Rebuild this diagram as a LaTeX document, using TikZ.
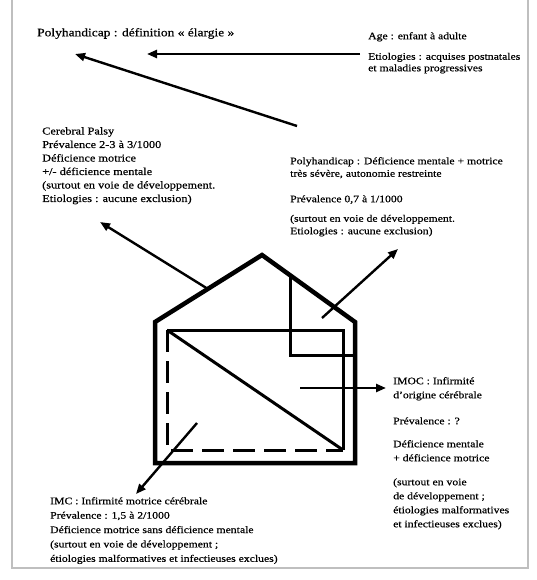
\documentclass[tikz,border=0pt]{standalone}
\usepackage{fontspec}
\setmainfont[FakeStretch=1.17,FakeBold=0.5]{Liberation Serif}
\usetikzlibrary{arrows.meta}
\tikzset{
  wall/.style={line width=4.5pt, line join=miter},
  inner/.style={line width=3pt},
  dashwall/.style={line width=3pt, dash pattern=on 22pt off 9pt},
  pointer/.style={line width=2.4pt, -{Triangle[length=10pt,width=8pt]}},
  txt/.style={anchor=north west, inner sep=0pt, align=left, font=\fontsize{10.5}{13.5}\selectfont},
}
\begin{document}
\begin{tikzpicture}[x=1pt,y=-1pt]
\useasboundingbox (0,0) rectangle (536,580);
\coordinate (f1) at (12,0);
\coordinate (f2) at (12,568);
\coordinate (f3) at (528,568);
\coordinate (f4) at (528,0);
\draw[black!25, line width=1.2pt] (f1) -- (f2) -- (f3) -- (f4);

% house
\coordinate (bl) at (155,463);
\coordinate (br) at (355,463);
\coordinate (el) at (155,322);
\coordinate (er) at (355,322);
\coordinate (ap) at (262,255);
\draw[wall] (el) -- (ap) -- (er) -- (br) -- (bl) -- cycle;

% inner rectangle
\coordinate (itl) at (167,330);
\coordinate (itr) at (343,330);
\coordinate (ibr) at (343,450);
\coordinate (ibl) at (167,450);
\draw[inner] (itl) -- (itr) -- (ibr);
\draw[dashwall] (itl) -- (ibl) -- (ibr);
\draw[inner] (itl) -- (ibr);

% inner L
\coordinate (lt) at (290,275);
\coordinate (lc) at (290,355);
\coordinate (lr) at (355,355);
\draw[inner] (lt) -- (lc) -- (lr);

% texts
\node[txt, font=\fontsize{11.5}{14}\selectfont] (title) at (37,28) {Polyhandicap : définition « élargie »};
\node[txt, font=\fontsize{10}{11.5}\selectfont] (age) at (368,32) {Age : enfant à adulte\\[9pt]Etiologies : acquises postnatales\\et maladies progressives};
\node[txt] (cp) at (42,127) {Cerebral Palsy\\Prévalence 2-3 à 3/1000\\Déficience motrice\\+/- déficience mentale\\(surtout en voie de développement.\\Etiologies : aucune exclusion)};
\node[txt, font=\fontsize{10}{12.5}\selectfont] (poly) at (290,157) {Polyhandicap : Déficience mentale + motrice\\très sévère, autonomie restreinte\\[13pt]Prévalence 0,7 à 1/1000\\[7pt](surtout en voie de développement.\\Etiologies : aucune exclusion)};
\node[txt, font=\fontsize{10}{14}\selectfont] (imoc) at (393,377) {IMOC : Infirmité\\d'origine cérébrale\\[12pt]Prévalence : ?\\[9pt]Déficience mentale\\+ déficience motrice\\[10pt](surtout en voie\\de développement ;\\étiologies malformatives\\et infectieuses exclues)};
\node[txt, font=\fontsize{10}{14.4}\selectfont] (imc) at (50,497) {IMC : Infirmité motrice cérébrale\\Prévalence : 1,5 à 2/1000\\Déficience motrice sans déficience mentale\\(surtout en voie de développement ;\\étiologies malformatives et infectieuses exclues)};

% arrows
\coordinate (a1s) at (360,54);  \coordinate (a1e) at (147,54);
\coordinate (a2s) at (297,126); \coordinate (a2e) at (75,54);
\coordinate (a3s) at (208,289); \coordinate (a3e) at (100,222);
\coordinate (a4s) at (322,318); \coordinate (a4e) at (398,249);
\coordinate (a5s) at (300,388); \coordinate (a5e) at (386,388);
\coordinate (a6s) at (197,423); \coordinate (a6e) at (136,494);
\draw[pointer] (a1s) -- (a1e);
\draw[pointer] (a2s) -- (a2e);
\draw[pointer] (a3s) -- (a3e);
\draw[pointer] (a4s) -- (a4e);
\draw[pointer] (a5s) -- (a5e);
\draw[pointer] (a6s) -- (a6e);
\end{tikzpicture}
\end{document}
